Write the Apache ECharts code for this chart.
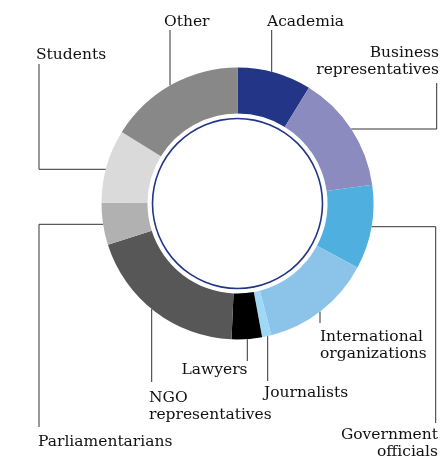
<!DOCTYPE html>
<html><head><meta charset="utf-8">
<script src="https://cdn.jsdelivr.net/npm/echarts@6/dist/echarts.min.js"></script>
<style>html,body{margin:0;padding:0;background:#fff}#c{width:443px;height:459px}</style>
</head><body><div id="c"></div>
<script>
// Data
const categories = ['Academia', 'Business\nrepresentatives', 'Government\nofficials', 'International\norganizations', 'Journalists', 'Lawyers', 'NGO\nrepresentatives', 'Parliamentarians', 'Students', 'Other'];
const values = [8.8, 14.0, 10.0, 13.2, 1.1, 3.6, 19.4, 5.0, 8.7, 16.2];

// Styles
const colors = ['#233587', '#8b8bc0', '#4fb0e0', '#8cc4e9', '#9fd8f6', '#000000', '#575757', '#b1b1b1', '#dadada', '#888888'];
const CX = 237.5, CY = 203.5, R_OUT = 136, R_IN = 90;

// Label anchors (annotation layout): text position + leader-line start and optional corner
const labelSpots = [
  { x: 267, y: 22, align: 'left', start: [271.7, 30] },
  { x: 439, y: 61.5, align: 'right', start: [436.7, 83], turnY: 129 },
  { x: 438, y: 443.3, align: 'right', start: [435.7, 423], turnY: 226.7 },
  { x: 320, y: 345.8, align: 'left', start: [320, 323] },
  { x: 264, y: 392.8, align: 'left', start: [267.7, 381] },
  { x: 247.5, y: 369.8, align: 'right', start: [247.3, 361] },
  { x: 149, y: 406.3, align: 'left', start: [151.7, 382] },
  { x: 38, y: 441.8, align: 'left', start: [39, 427], turnY: 224.3 },
  { x: 36, y: 55, align: 'left', start: [39, 64], turnY: 169.3 },
  { x: 164, y: 22, align: 'left', start: [170, 30] }
];

function guidePoints(s) {
  const [sx, sy] = s.start;
  if (s.turnY == null) {
    const dy = Math.sqrt(R_OUT * R_OUT - (sx - CX) * (sx - CX));
    const ey = sy < CY ? CY - dy : CY + dy;
    return [[sx, sy], [sx, ey]];
  }
  const dx = Math.sqrt(R_OUT * R_OUT - (s.turnY - CY) * (s.turnY - CY));
  const ex = sx < CX ? CX - dx : CX + dx;
  return [[sx, sy], [sx, s.turnY], [ex, s.turnY]];
}

const chart = echarts.init(document.getElementById('c'), null, { renderer: 'canvas' });
chart.setOption({
  animation: false,
  backgroundColor: '#ffffff',
  series: [
    {
      type: 'pie',
      center: [CX, CY],
      radius: [R_IN, R_OUT],
      startAngle: 90,
      clockwise: true,
      avoidLabelOverlap: false,
      silent: true,
      itemStyle: { borderWidth: 0 },
      data: categories.map((n, i) => ({ name: n, value: values[i], itemStyle: { color: colors[i] } })),
      label: {
        show: true, position: 'outside', formatter: '{b}',
        fontFamily: 'DejaVu Serif', fontSize: 15.5, lineHeight: 17,
        color: '#111111', overflow: 'none'
      },
      labelLine: { show: true, length: 5, length2: 5, smooth: false, lineStyle: { color: '#333333', width: 1 } },
      labelLayout: function (p) {
        const s = labelSpots[p.dataIndex];
        return { x: s.x, y: s.y, align: s.align, verticalAlign: 'middle', labelLinePoints: guidePoints(s) };
      }
    },
    {
      type: 'pie',
      center: [CX, CY],
      radius: [84.2, 85.8],
      silent: true,
      label: { show: false },
      labelLine: { show: false },
      data: [{ value: 1, itemStyle: { color: '#233587' } }]
    }
  ]
});
</script>
</body></html>
